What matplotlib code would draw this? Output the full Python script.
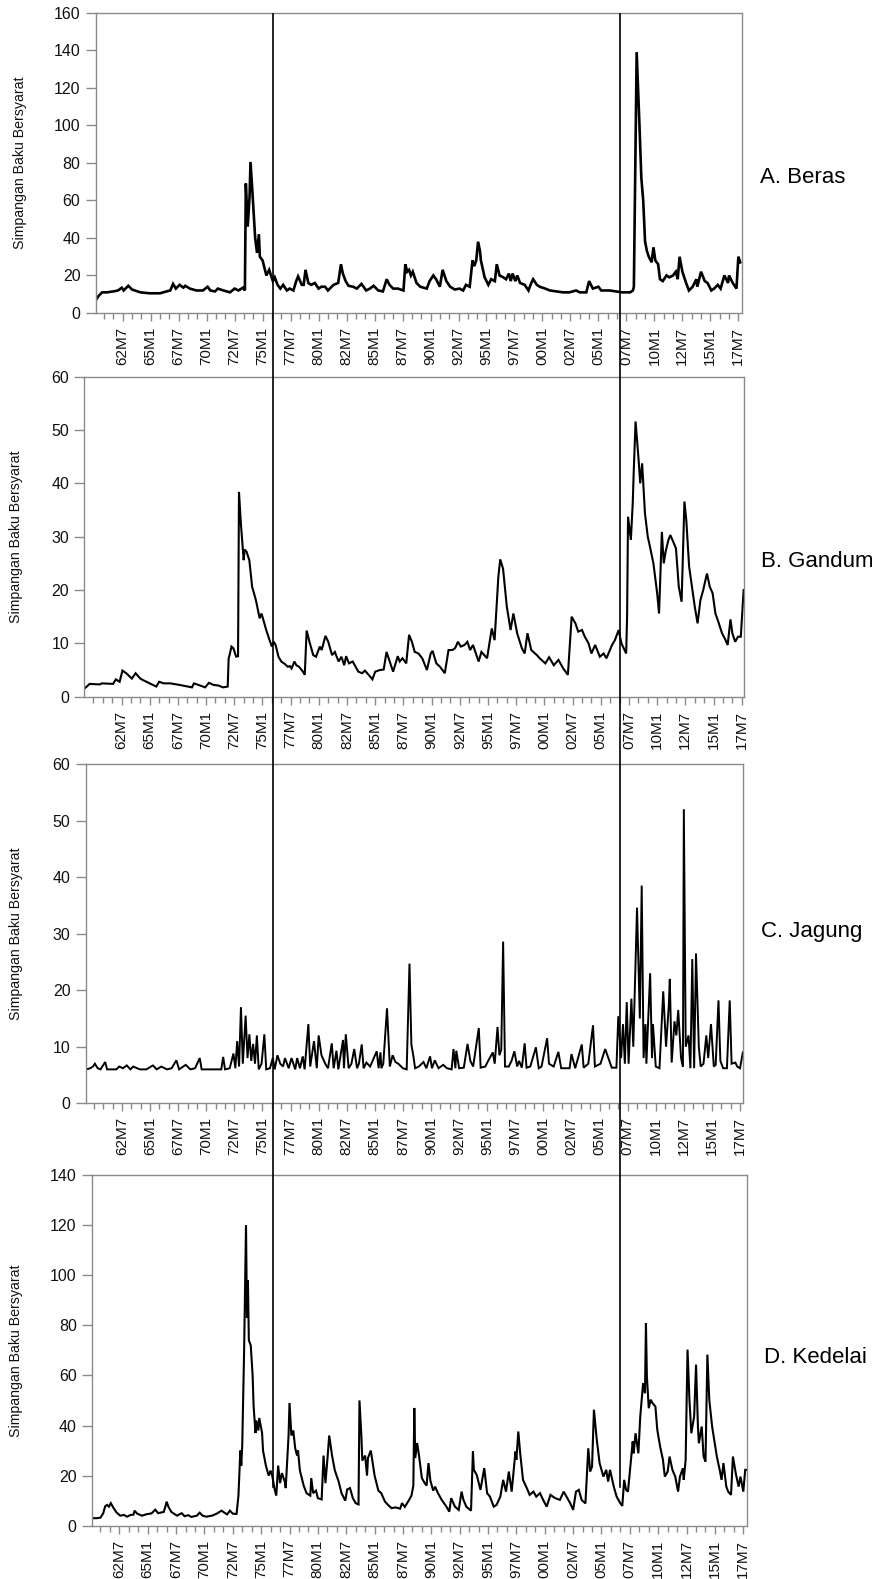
import matplotlib
matplotlib.use("Agg")
import matplotlib.pyplot as plt
from matplotlib.lines import Line2D
from matplotlib.ticker import FixedLocator, FuncFormatter

plt.rcParams["font.family"] = ["Liberation Sans", "DejaVu Sans"]

# Observations are months counted from 1960M1 (0 = 1960M1, 30 = 1962M7).
beras_obs = [0, 4, 8, 13, 20, 25, 29, 31, 36, 40, 49, 59, 70, 77, 81, 84, 87, 91,
             95, 97, 102, 109, 116, 121, 124, 129, 132, 138, 145, 150, 154, 159,
             161, 162, 164, 166, 167, 169, 172, 174, 176, 177, 180, 182, 184, 187,
             191, 193, 196, 199, 202, 206, 209, 213, 216, 218, 222, 224, 226, 229,
             232, 236, 240, 243, 247, 250, 256, 261, 264, 266, 269, 272, 277, 281,
             286, 291, 295, 299, 304, 309, 313, 316, 320, 325, 331, 333, 335, 337,
             339, 341, 345, 349, 356, 359, 363, 366, 370, 373, 377, 381, 386, 391,
             395, 398, 402, 405, 407, 409, 411, 413, 414, 418, 422, 425, 429, 431,
             434, 438, 441, 444, 446, 448, 451, 453, 456, 461, 465, 468, 470, 474,
             477, 483, 488, 495, 502, 509, 516, 520, 527, 530, 534, 540, 543, 552,
             559, 565, 574, 577, 578, 581, 584, 586, 588, 590, 592, 594, 597, 599,
             601, 604, 606, 609, 613, 616, 620, 623, 625, 627, 630, 634, 637, 641,
             645, 646, 650, 654, 657, 661, 664, 668, 671, 675, 679, 680, 684, 688,
             690, 692]
beras_val = [6, 9, 11, 11, 11.5, 12, 13.5, 12, 14.5, 12.5, 11, 10.5, 10.5, 11.5, 12,
             15.5, 13, 15, 13.5, 14.5, 13, 12, 12, 14, 12, 11.5, 13, 12, 11, 13, 12,
             13.5, 12, 69, 46, 62, 80.5, 65, 40, 32, 42, 30, 28, 24, 20, 23, 17, 19,
             15, 13, 15, 12, 13, 12, 17, 19.5, 15, 15, 23, 16, 15, 16, 13, 14, 14,
             12, 15, 16, 26, 21, 17, 14.5, 14, 13, 15.5, 12, 13, 14.5, 12, 11.5, 18,
             15, 13, 13, 12, 26, 22, 23, 20, 22, 16, 14, 13, 17, 20, 18, 14, 23, 17,
             14, 12.5, 13, 12, 15, 14, 28, 25, 28, 38, 33, 28, 19, 15, 18, 17, 26,
             20, 19, 18, 21, 17, 21, 17, 20, 16, 15, 12, 16, 18, 15, 14, 13, 12,
             11.5, 11, 11, 12, 11, 11, 17, 13, 14, 12, 12, 11.5, 11, 11, 12, 14, 139,
             100, 72, 60, 38, 33, 30, 27, 35, 28, 26, 18, 17, 20, 19, 20, 22, 18, 30,
             22, 16, 12, 14, 18, 14, 22, 17, 16, 12, 13, 15, 13, 20, 16, 20, 16, 13,
             30, 27]

gandum_obs = [-9, -7, -4, 7, 9, 21, 24, 28, 31, 35, 41, 45, 50, 53, 60, 67, 70, 75,
              82, 92, 101, 105, 107, 112, 119, 123, 128, 133, 138, 143, 144, 145,
              147, 149, 152, 154, 155, 157, 160, 161, 163, 166, 169, 170, 173, 176,
              177, 179, 182, 184, 187, 190, 192, 194, 197, 200, 204, 207, 209, 211,
              214, 216, 219, 223, 225, 227, 230, 234, 237, 241, 243, 247, 250, 254,
              257, 261, 264, 267, 269, 272, 276, 282, 286, 289, 293, 297, 300, 305,
              309, 312, 316, 319, 324, 326, 329, 333, 336, 339, 342, 346, 350, 355,
              359, 361, 365, 369, 374, 378, 382, 385, 388, 391, 395, 398, 401, 404,
              410, 413, 419, 424, 427, 431, 433, 436, 440, 444, 447, 451, 456, 459,
              462, 466, 472, 475, 481, 485, 490, 495, 500, 505, 509, 513, 516, 520,
              523, 527, 530, 534, 539, 543, 546, 552, 555, 559, 562, 567, 568, 569,
              572, 574, 575, 577, 580, 582, 584, 587, 590, 592, 596, 600, 602, 605,
              607, 609, 612, 614, 617, 620, 623, 626, 629, 631, 634, 637, 640, 643,
              646, 649, 653, 656, 659, 662, 665, 669, 672, 675, 678, 680, 683, 686,
              689, 692]
gandum_val = [1.6, 1.9, 2.4, 2.3, 2.5, 2.4, 3.25, 2.8, 4.9, 4.4, 3.4, 4.4, 3.4, 3.1,
              2.5, 1.9, 2.8, 2.5, 2.5, 2.2, 1.9, 1.75, 2.5, 2.2, 1.75, 2.6, 2.2, 2.1,
              1.75, 1.9, 7.2, 7.8, 9.4, 9.1, 7.5, 7.6, 38.4, 32.5, 25.6, 27.6, 27.2,
              25.6, 20.6, 20, 18.1, 15.6, 14.7, 15.6, 13.75, 12.5, 10.9, 9.4, 10.3,
              9.7, 7.5, 6.6, 6.1, 5.6, 5.75, 5.3, 6.6, 5.9, 5.6, 4.7, 4.1, 12.4, 10.3,
              7.8, 7.5, 9.4, 8.75, 11.4, 10.3, 7.8, 8.4, 6.6, 7.5, 5.9, 7.6, 6.25,
              6.6, 4.7, 4.4, 4.9, 4.1, 3.25, 4.7, 5, 5.1, 8.4, 6.25, 4.7, 7.6, 6.6,
              7.2, 6.25, 11.6, 10.3, 8.4, 8.1, 7.2, 5, 8.1, 8.6, 6.25, 5.6, 4.4, 8.75,
              8.75, 9.1, 10.3, 9.4, 9.7, 10.3, 8.75, 9.7, 6.6, 8.4, 7.2, 12.8, 10.6,
              22.5, 25.75, 24, 16.9, 12.5, 15.6, 11.9, 9.1, 8.1, 11.9, 8.75, 7.8,
              7.2, 6.25, 7.4, 5.9, 6.9, 5.3, 4.1, 15, 13.75, 12.2, 12.5, 11.25, 10,
              8.1, 9.7, 7.5, 8.1, 7.2, 9.7, 10.6, 12.5, 10, 8.1, 15, 33.75, 29.4,
              36.25, 41.9, 51.6, 45, 40, 43.75, 34.4, 30, 28.4, 25, 19.4, 15.6, 30.9,
              25, 27.2, 29.4, 30.3, 29.1, 27.8, 20.6, 17.8, 36.6, 33.1, 24.4, 20.6,
              16.9, 13.75, 18.1, 20, 23.1, 20.6, 19.4, 15.6, 14.1, 11.9, 10.9, 9.7,
              14.5, 11.9, 10.3, 11.25, 11.25, 20]

jagung_obs = [-8, -4, -1, 1, 4, 7, 12, 14, 24, 27, 31, 35, 39, 42, 49, 56, 63, 67,
              72, 78, 83, 88, 91, 98, 103, 108, 113, 115, 126, 136, 138, 140, 145,
              149, 151, 153, 155, 157, 159, 162, 164, 166, 168, 170, 172, 174, 176,
              179, 182, 184, 188, 191, 193, 196, 199, 202, 204, 208, 211, 215, 217,
              220, 223, 225, 229, 231, 235, 238, 240, 243, 247, 250, 254, 256, 259,
              261, 266, 267, 269, 272, 275, 278, 281, 283, 286, 288, 291, 295, 302,
              304, 306, 307, 309, 313, 316, 319, 322, 325, 330, 334, 337, 339, 341,
              343, 347, 352, 355, 359, 361, 364, 368, 373, 377, 382, 384, 386, 387,
              390, 395, 399, 402, 405, 411, 413, 418, 421, 426, 428, 431, 433, 435,
              437, 439, 443, 446, 449, 452, 454, 457, 460, 462, 466, 472, 475, 478,
              484, 486, 491, 496, 499, 503, 508, 510, 514, 521, 523, 528, 533, 535,
              541, 546, 549, 553, 558, 560, 563, 565, 567, 569, 571, 574, 576, 580,
              583, 585, 587, 589, 590, 594, 596, 597, 600, 604, 606, 608, 611, 614,
              615, 617, 620, 622, 624, 627, 629, 630, 632, 635, 637, 639, 641, 643,
              646, 648, 651, 654, 656, 659, 662, 664, 667, 669, 672, 676, 679, 681,
              685, 687, 690, 693]
jagung_val = [6, 6.2, 6.5, 7, 6.2, 6, 7.3, 6, 6, 6.5, 6.2, 6.7, 6, 6.5, 6, 6, 6.7, 6,
              6.5, 6, 6.2, 7.6, 6, 6.8, 6, 6.2, 8, 6, 6, 6, 8.2, 6, 6.2, 8.8, 6.2, 11,
              6.5, 17, 7, 15.5, 8, 12.2, 7.5, 10.5, 7, 12, 6, 7, 12.2, 6, 6.2, 8, 6,
              8.5, 7, 6.5, 8, 6.2, 8, 6, 8, 6.2, 8.3, 6, 14, 6.5, 11, 6.2, 12, 8.5,
              7, 6.2, 10.6, 6.2, 9.3, 6, 11.2, 6.2, 12.2, 6.2, 7, 9.6, 6.2, 7, 10.4,
              6.2, 7.2, 6.5, 9.2, 6.2, 9, 6.2, 7, 16.8, 6.5, 8.5, 7.3, 7, 6.2, 6, 24.7,
              10.4, 8.5, 6.2, 6.5, 7.3, 6.2, 8.3, 6.2, 7.6, 6.2, 6.8, 6.2, 6, 9.6,
              6.2, 9.3, 6.2, 6.3, 10.5, 7.5, 6.5, 13.3, 6.3, 6.5, 7.5, 9, 7, 13.5,
              8.5, 9.5, 28.6, 6.5, 6.5, 7.5, 9.2, 6.5, 7.5, 6.3, 10.6, 6.3, 6.5, 9.9,
              6.2, 6.5, 11.5, 7, 6.5, 9.1, 6.2, 6.2, 6.2, 8.7, 6.2, 10.4, 6.3, 7, 13.8,
              6.5, 7, 9.6, 8.2, 6.3, 6.3, 15.4, 8, 14, 7, 17.9, 7, 18.5, 10, 34.6, 15,
              38.5, 8, 14, 7, 23, 8, 14, 6.5, 6.2, 13, 19.8, 10, 17.5, 22, 7.2, 14.5,
              12, 16.5, 8, 6.5, 52, 10, 12, 6.2, 25.5, 6.2, 26.5, 10, 6.5, 7, 12, 8,
              14, 6.5, 6.8, 18.2, 7.5, 6.2, 6.2, 18.2, 7, 7.2, 6.5, 6.2, 9]

kedelai_obs = [1, 6, 10, 13, 15, 17, 19, 21, 24, 27, 31, 35, 38, 42, 45, 46, 49, 54,
               59, 64, 68, 71, 77, 79, 80, 82, 85, 91, 96, 99, 103, 106, 112, 115,
               118, 122, 128, 133, 138, 144, 147, 150, 154, 156, 158, 159, 160, 162,
               164, 165, 166, 167, 169, 171, 172, 174, 175, 177, 178, 181, 182, 185,
               188, 190, 192, 194, 196, 198, 200, 202, 205, 206, 209, 210, 212, 214,
               216, 218, 219, 221, 225, 228, 232, 233, 235, 238, 240, 244, 246, 248,
               250, 252, 255, 258, 262, 265, 269, 271, 274, 277, 280, 283, 284, 286,
               287, 290, 292, 293, 296, 298, 300, 304, 307, 311, 315, 318, 322, 327,
               329, 332, 336, 339, 341, 342, 343, 345, 347, 350, 353, 355, 357, 359,
               362, 364, 367, 371, 376, 379, 381, 385, 389, 392, 394, 397, 402, 404,
               405, 408, 412, 416, 419, 422, 426, 429, 433, 436, 439, 442, 445, 449,
               450, 452, 454, 457, 461, 464, 468, 471, 475, 478, 482, 486, 491, 496,
               500, 503, 507, 510, 513, 516, 519, 523, 526, 528, 530, 532, 535, 538,
               542, 545, 547, 549, 553, 556, 560, 562, 564, 566, 568, 570, 573, 574,
               576, 579, 581, 584, 586, 587, 588, 590, 592, 594, 597, 599, 602, 605,
               607, 610, 612, 615, 618, 621, 623, 626, 627, 629, 631, 633, 635, 638,
               640, 642, 643, 646, 648, 650, 652, 654, 657, 659, 662, 665, 667, 669,
               672, 674, 677, 679, 682, 685, 687, 690, 692, 693]
kedelai_val = [3, 3, 3.2, 5, 7.7, 8.3, 7.6, 9, 7, 5.3, 4, 4.3, 3.6, 4.3, 4.4, 6, 4.8,
               4, 4.6, 4.9, 6.4, 5, 5.5, 8, 9.6, 7.5, 5.5, 4, 5, 3.8, 4.2, 3.5, 4, 5.2,
               4, 3.6, 4, 4.8, 6, 4.5, 6, 4.8, 4.7, 12, 30, 24, 32, 70, 120, 83, 98,
               74, 72, 60, 48, 37, 42, 38, 43, 37, 30, 24, 20, 22, 19.5, 15, 12, 24,
               17, 21, 17.6, 15, 36, 49, 36, 38, 31, 28, 30, 22, 16, 13, 12, 19, 13,
               14, 11, 10.5, 28, 17, 26, 36, 28, 22, 17.6, 13, 10, 14.5, 15, 11, 9,
               8.5, 50, 36, 26, 28, 20, 27, 30, 25, 20, 14, 13, 9.6, 8, 7, 7.3, 6.8, 9,
               7.5, 10, 12, 16, 47, 27, 33, 28, 19, 17, 16, 25, 18, 14, 15.6, 13, 10.3,
               7.6, 5.6, 11, 7.6, 6.3, 13.6, 10.3, 7.6, 6, 29.6, 22.3, 20.3, 14.3, 23,
               13, 11.6, 7.6, 8.3, 11.6, 18.3, 13.6, 21.6, 13.6, 29.6, 26.3, 37.6,
               28.9, 18.3, 15, 12.3, 13.6, 11.6, 13, 10.5, 7.6, 12.3, 11, 10.3, 13.6,
               11.6, 8.9, 6.3, 13.6, 14.3, 10.3, 8.9, 30.9, 21.6, 23.6, 46.3, 34.3, 25,
               19.6, 22.3, 17.6, 22.3, 15.6, 11.6, 8.9, 7.9, 18.3, 14.3, 13.6, 21.6,
               33.6, 28.9, 36.9, 28.9, 43.6, 56.9, 52.9, 80.9, 59.6, 46.9, 50.3, 48.9,
               47.6, 38.3, 31.6, 26.3, 19.6, 21.6, 27.6, 22.3, 19.6, 13.6, 19.6, 22.9,
               18.3, 26.3, 70.3, 50.3, 36.9, 43.6, 64.3, 39.6, 32.9, 39.6, 27.6, 25.6,
               68.3, 50.3, 39.6, 34.9, 27.6, 22.3, 18.3, 25, 15.6, 13.6, 12.3, 27.6,
               20.9, 15.6, 19.6, 13.6, 22.3, 22.3]

panel_names = ["A. Beras", "B. Gandum", "C. Jagung", "D. Kedelai"]
panel_ymax = [160, 60, 60, 140]
panel_ystep = [20, 10, 10, 20]
break_obs = [191, 563]  # 1975M12 and 2006M12
y_label = "Simpangan Baku Bersyarat"

series = [(beras_obs, beras_val), (gandum_obs, gandum_val),
          (jagung_obs, jagung_val), (kedelai_obs, kedelai_val)]

W, H = 885, 1579
# axes boxes in pixels: left, right, top, bottom; and visible month range
boxes = [(95.7, 741.7, 12.7, 313.0), (84.3, 744.0, 376.7, 696.7),
         (85.7, 743.3, 764.0, 1103.3), (92.0, 747.0, 1175.0, 1525.7)]
xranges = [(1.05, 693.6), (-9.6, 692.4), (-8.8, 693.5), (1.1, 693.9)]
label_y = [183, 567, 937, 1363]
label_x = [760, 761, 761, 764]
ylab_x = [27, 23, 23, 23]
line_w = [1.9, 1.5, 1.4, 1.5]

grey = "#8a8a8a"


def obs_label(m, pos):
    m = int(round(m))
    return "{0:02d}M{1}".format((1960 + m // 12) % 100, m % 12 + 1)


fig = plt.figure(figsize=(W / 100, H / 100), dpi=100)
axes = []
for i, (obs, val) in enumerate(series):
    l, r, t, b = boxes[i]
    ax = fig.add_axes([l / W, 1 - b / H, (r - l) / W, (b - t) / H])
    ax.plot(obs, val, color="black", lw=line_w[i], solid_joinstyle="miter")
    ax.set_xlim(*xranges[i])
    ax.set_ylim(0, panel_ymax[i])
    ax.set_yticks(range(0, panel_ymax[i] + 1, panel_ystep[i]))
    ax.xaxis.set_major_locator(FixedLocator(range(30, 700, 30)))
    ax.xaxis.set_minor_locator(FixedLocator(range(-10, 700, 10)))
    ax.xaxis.set_major_formatter(FuncFormatter(obs_label))
    for s in ax.spines.values():
        s.set_color(grey)
        s.set_linewidth(1.0)
    ax.tick_params(axis="x", which="major", length=6, width=1, color=grey,
                   labelrotation=90, labelsize=11, pad=4, labelcolor="#111111")
    ax.tick_params(axis="x", which="minor", length=4, width=1, color=grey)
    ax.tick_params(axis="y", length=7, width=1, color=grey, labelsize=11.5, pad=4,
                   labelcolor="#111111")
    ax.set_ylabel(y_label, fontsize=10.2, color="#111111")
    ax.yaxis.set_label_coords((ylab_x[i] - l) / (r - l), 0.5)
    fig.text(label_x[i] / W, 1 - label_y[i] / H, panel_names[i], fontsize=16,
             va="baseline", ha="left")
    axes.append(ax)

# the two break dates cut through all four panels
fig.canvas.draw()
for m in break_obs:
    xd = axes[0].transData.transform((m, 0))[0]
    xf = fig.transFigure.inverted().transform((xd, 0))[0]
    fig.add_artist(Line2D([xf, xf], [1 - 14 / H, 1 - 1487 / H], color="black",
                          lw=1.2, transform=fig.transFigure))

fig.savefig("out.png", dpi=100)
